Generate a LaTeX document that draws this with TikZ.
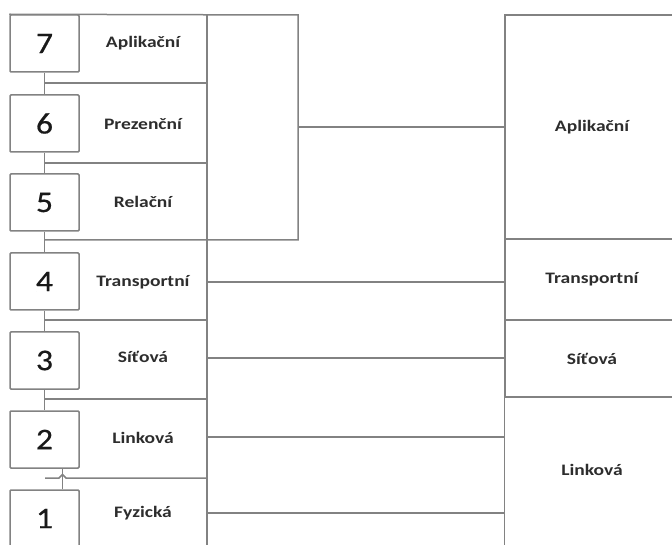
\documentclass[tikz,border=0pt]{standalone}
\usepackage{fontspec}
\setmainfont{Carlito}
\newfontfamily\lblfont[FakeStretch=1.22]{Carlito}
\newfontfamily\numfont[FakeStretch=1.12,FakeBold=0.6]{Carlito}
\definecolor{linegray}{RGB}{130,130,130}
\definecolor{textgray}{RGB}{45,45,45}

\begin{document}
\begin{tikzpicture}[x=1pt,y=-1pt,
    numbox/.style={rectangle, draw=linegray, fill=white, line width=1.5pt,
      rounded corners=1pt, minimum width=69pt, minimum height=57pt, inner sep=0pt,
      font=\numfont\fontsize{30}{30}\selectfont, text=black!90},
    layer/.style={font=\lblfont\bfseries\fontsize{16}{16}\selectfont, text=textgray},
    cell/.style={rectangle, draw=linegray, line width=1.5pt, minimum width=174pt,
      inner sep=0pt, layer},
    line/.style={draw=linegray, line width=1.5pt}]

    \useasboundingbox (0,0) rectangle (672,545);
    \clip (0,0) rectangle (672,545);

    % OSI layers
    \node[numbox] (n7) at (44.5,43.5) {7};
    \node[numbox] (n6) at (44.5,123.5) {6};
    \node[numbox] (n5) at (44.5,202.5) {5};
    \node[numbox] (n4) at (44.5,281.5) {4};
    \node[numbox] (n3) at (44.5,360.5) {3};
    \node[numbox] (n2) at (44.5,439.5) {2};
    \node[numbox] (n1) at (44.5,518.5) {1};

    \node[layer] (l7) at (143,43) {Aplikační};
    \node[layer] (l6) at (143,124) {Prezenční};
    \node[layer] (l5) at (143,202) {Relační};
    \node[layer] (l4) at (143,282) {Transportní};
    \node[layer] (l3) at (143,357) {Síťová};
    \node[layer] (l2) at (143,438) {Linková};
    \node[layer] (l1) at (143,513) {Fyzická};

    \draw[line] (n7) -- (n6);
    \draw[line] (n6) -- (n5);
    \draw[line] (n5) -- (n4);
    \draw[line] (n4) -- (n3);
    \draw[line] (n3) -- (n2);
    \draw[line] ([xshift=18pt]n1.north) -- ([xshift=18pt]n2.south);

    \draw[line] (44,83) -- (207,83);
    \draw[line] (44,163) -- (207,163);
    \draw[line] (44,320) -- (207,320);
    \draw[line] (44,399) -- (207,399);
    \draw[line] (45,478) -- (59,478) -- (62.5,474.5) -- (66,478) -- (207,478);

    % upper group and bus
    \coordinate (grp) at (298,127);
    \draw[line] (n7.north west) -- (298,15) -- (298,240) -- (44,240);
    \draw[line] (207,15) -- (207,550);

    % TCP/IP layers
    \node[cell, minimum height=224pt] (ra) at (592,127) {Aplikační};
    \node[cell, minimum height=81pt] (rt) at (592,279.5) {Transportní};
    \node[cell, minimum height=77pt] (rs) at (592,358.5) {Síťová};
    \draw[line] (rs.south west) -- ++(0,160);
    \node[layer] (rl) at (592,470) {Linková};

    \coordinate (b4) at (207,282);
    \coordinate (b3) at (207,358);
    \coordinate (b2) at (207,437);
    \coordinate (b1) at (207,513);

    \draw[line] (grp) -- (ra.west);
    \draw[line] (b4) -- (b4 -| rt.west);
    \draw[line] (b3) -- (b3 -| rs.west);
    \draw[line] (b2) -- (b2 -| rs.west);
    \draw[line] (b1) -- (b1 -| rs.west);

  \end{tikzpicture}
\end{document}
